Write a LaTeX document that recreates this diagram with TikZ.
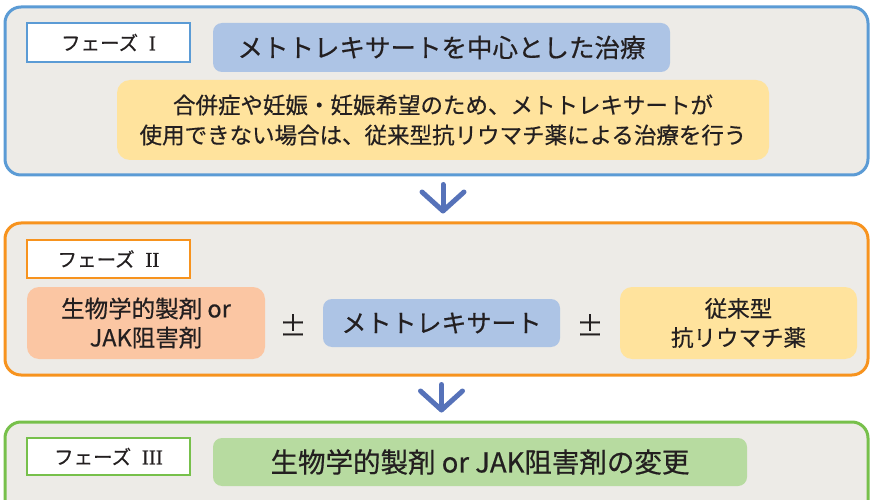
\documentclass[tikz,border=0pt]{standalone}
\usepackage{fontspec}
\setmainfont{Noto Sans CJK JP}[FakeBold=0.5]
\newfontfamily\romanfont{Liberation Serif}[FakeBold=1]
\newcommand\phasenum[1]{\hspace{0.55em}{\romanfont\fontsize{21}{21}\selectfont #1}}
\usetikzlibrary{arrows.meta}

\definecolor{boxgray}{HTML}{EDEBE7}
\definecolor{lineblue}{HTML}{5B9BD5}
\definecolor{lineorange}{HTML}{F7931E}
\definecolor{linegreen}{HTML}{77C04B}
\definecolor{mtxblue}{HTML}{ADC4E5}
\definecolor{noteyellow}{HTML}{FFE39D}
\definecolor{biosalmon}{HTML}{FBC6A3}
\definecolor{biogreen}{HTML}{B7DBA0}
\definecolor{arrowblue}{HTML}{5672B9}
\definecolor{ink}{HTML}{231F20}

\begin{document}
\begin{tikzpicture}[x=1pt,y=-1pt,
  every node/.style={text=ink, inner sep=0pt, align=center},
  phase/.style={draw, line width=3pt, fill=boxgray, rounded corners=16pt, minimum width=863pt},
  phaselabel/.style={draw, line width=2.5pt, fill=white, minimum width=163pt, font=\fontsize{19.5}{21}\selectfont},
  drugbox/.style={rounded corners=9pt},
  pm/.style={font=\fontsize{27}{28}\selectfont},
  flow/.style={arrowblue, line width=5pt, line cap=round, shorten <=8pt, shorten >=8pt,
    -{Straight Barb[length=19pt,width=42pt,round]}}
]
\useasboundingbox (0,0) rectangle (871,500);
\clip (0,0) rectangle (871,500);

% phase I
\node [phase, draw=lineblue, minimum height=168pt] (phase1) at (436.5,91) {};
\node [phaselabel, draw=lineblue, minimum height=39pt] (label1) at (108.5,42.5) {フェーズ\phasenum{I}};
\node [drugbox, fill=mtxblue, minimum width=457pt, minimum height=49pt,
  font=\fontsize{25.5}{28}\selectfont] (mtx1) at (441.5,47.5) {メトトレキサートを中心とした治療};
\node [drugbox, rounded corners=13pt, fill=noteyellow, minimum width=652pt, minimum height=80pt,
  font=\fontsize{22.5}{30}\selectfont] (note1) at (443,120)
  {合併症や妊娠・妊娠希望のため、メトトレキサートが\\使用できない場合は、従来型抗リウマチ薬による治療を行う};

% phase II
\node [phase, draw=lineorange, minimum height=152pt] (phase2) at (436.5,299) {};
\node [phaselabel, draw=lineorange, minimum height=38pt] (label2) at (108.5,259) {フェーズ\phasenum{II}};
\node [drugbox, rounded corners=12pt, fill=biosalmon, minimum width=238pt, minimum height=72pt,
  font=\fontsize{23.5}{29}\selectfont] (bio2) at (146,323) {生物学的製剤 or\\JAK阻害剤};
\node [pm] (pm1) at (293,325) {±};
\node [drugbox, fill=mtxblue, minimum width=237pt, minimum height=48pt,
  font=\fontsize{25}{28}\selectfont] (mtx2) at (441.5,323) {メトトレキサート};
\node [pm] (pm2) at (590,325) {±};
\node [drugbox, rounded corners=12pt, fill=noteyellow, minimum width=237pt, minimum height=72pt,
  font=\fontsize{22.5}{29}\selectfont] (csd2) at (738.5,323) {従来型\\抗リウマチ薬};

% phase III
\node [phase, draw=linegreen, minimum height=100pt] (phase3) at (436.5,472) {};
\node [phaselabel, draw=linegreen, minimum height=37pt] (label3) at (108.5,456.5) {フェーズ\phasenum{III}};
\node [drugbox, fill=biogreen, minimum width=534pt, minimum height=48pt,
  font=\fontsize{27.5}{28}\selectfont] (bio3) at (480,462) {生物学的製剤 or JAK阻害剤の変更};

\draw [flow] (note1 |- phase1.south) -- (note1 |- phase2.north);
\draw [flow] (mtx2 |- phase2.south) -- (mtx2 |- phase3.north);
\end{tikzpicture}
\end{document}
